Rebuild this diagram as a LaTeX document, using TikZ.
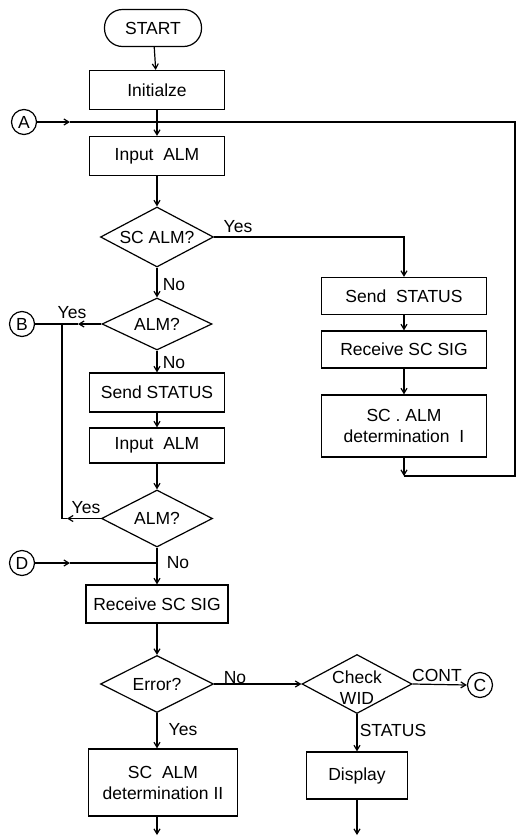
\documentclass[tikz,border=0pt]{standalone}
\usepackage{fontspec}
\setmainfont{Liberation Sans}
\usetikzlibrary{shapes.geometric,arrows.meta}
\begin{document}
\begin{tikzpicture}[x=1pt,y=-1pt, line width=1.2pt,
  every node/.style={font=\fontsize{17.5}{21}\selectfont},
  box/.style={draw, rectangle, inner sep=0, align=center},
  term/.style={draw, rectangle, rounded corners=18pt, inner sep=0},
  dia/.style={draw, diamond, aspect=1.9, inner sep=0},
  conn/.style={draw, circle, inner sep=0, minimum size=25},
  arr/.style={-{Straight Barb[length=5pt,width=6pt]}},
  lbl/.style={inner sep=0}]
\useasboundingbox (0,0) rectangle (517,836);
% nodes
\node[term, minimum width=97, minimum height=37] (start) at (153,28) {START};
\node[box, minimum width=135, minimum height=39] (init) at (157,90) {Initialze};
\node[conn] (A) at (24,122) {A};
\node[box, minimum width=135, minimum height=39] (inp1) at (157,156) {Input\ \ ALM};
\node[dia, minimum width=113, minimum height=60] (sc) at (157,237) {SC ALM?};
\node[box, minimum width=165, minimum height=37] (rs1) at (404,296) {Send\ \ STATUS};
\node[box, minimum width=165, minimum height=37] (rr1) at (404,349.5) {Receive\ SC\ SIG};
\node[box, minimum width=165, minimum height=62] (det1) at (404,426) {SC . ALM\\determination\ \ I};
\node[dia, minimum width=110, minimum height=52] (alm1) at (157,324) {ALM?};
\node[conn] (B) at (22,324) {B};
\node[box, minimum width=135, minimum height=39] (ss) at (157,392.5) {Send STATUS};
\node[box, minimum width=135, minimum height=35] (inp2) at (157,445.5) {Input\ \ ALM};
\node[dia, minimum width=111, minimum height=57] (alm2) at (157,518.5) {ALM?};
\node[conn] (D) at (22,563) {D};
\node[box, minimum width=142, minimum height=38] (recv) at (157,604) {Receive SC SIG};
\node[dia, minimum width=113, minimum height=57] (err) at (157,684) {Error?};
\node[dia, minimum width=110, minimum height=59] (chk) at (357,684) {};
\node[lbl, align=center] (chkt) at (357,688) {Check\\WID};
\node[conn] (C) at (480,685) {C};
\node[box, minimum width=101, minimum height=47] (disp) at (357,775.5) {Display};
\node[box, minimum width=149, minimum height=67] (det2) at (163,782.5) {SC\ \ ALM\\determination II};
% labels
\node[lbl] (l1) at (238,227) {Yes};
\node[lbl] (l2) at (174,285) {No};
\node[lbl] (l3) at (72,313) {Yes};
\node[lbl] (l4) at (174,363) {No};
\node[lbl] (l5) at (86,508) {Yes};
\node[lbl] (l6) at (178,563) {No};
\node[lbl] (l7) at (235,678) {No};
\node[lbl] (l8) at (437,675) {CONT};
\node[lbl] (l9) at (393,730) {STATUS};
\node[lbl] (l10) at (183,730) {Yes};
% coordinates
\coordinate (aA) at (70,122);
\coordinate (rA) at (515,122);
\coordinate (rB) at (515,476);
\coordinate (c1) at (det1.south |- rB);
\coordinate (bA) at (78,324);
\coordinate (v1) at (62,324);
\coordinate (v2) at (62,518.5);
\coordinate (bB) at (67,518.5);
\coordinate (dA) at (70,563);
\coordinate (dJ) at (157,563);
\coordinate (e1) at (157,835);
\coordinate (e2) at (357,835);
% connectors
\draw[arr] (start) -- (init);
\draw[arr] (init) -- (inp1);
\draw[arr] (A) -- (aA);
\draw (aA) -- (rA) -- (rB) -- (c1);
\draw[arr] (det1) -- (c1);
\draw[arr] (inp1) -- (sc);
\draw[arr] (sc.east) -| (rs1.north);
\draw[arr] (rs1) -- (rr1);
\draw[arr] (rr1) -- (det1);
\draw[arr] (sc) -- (alm1);
\draw[arr] (alm1.west) -- (bA);
\draw (bA) -- (B);
\draw[arr] (alm1) -- (ss);
\draw[arr] (ss) -- (inp2);
\draw[arr] (inp2) -- (alm2);
\draw[arr] (alm2.west) -- (bB);
\draw (bB) -- (v2) -- (v1);
\draw[arr] (alm2) -- (recv);
\draw[arr] (D) -- (dA);
\draw (dA) -- (dJ);
\draw[arr] (recv) -- (err);
\draw[arr] (err.east) -- (chk.west);
\draw[arr] (chk.east) -- (C.west);
\draw[arr] (chk.south) -- (disp.north);
\draw[arr] (err.south) -- (err.south |- det2.north);
\draw[arr] (det2.south -| e1) -- (e1);
\draw[arr] (disp) -- (e2);
\end{tikzpicture}
\end{document}
